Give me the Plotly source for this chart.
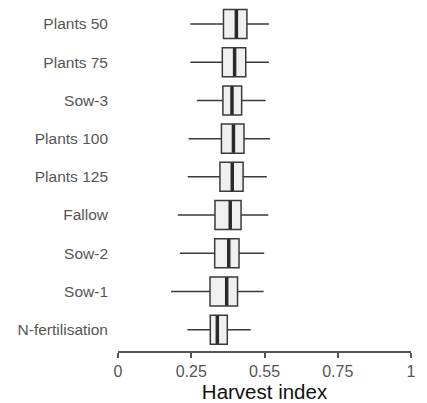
import plotly.graph_objects as go

categories = ["Plants 50", "Plants 75", "Sow-3", "Plants 100", "Plants 125",
              "Fallow", "Sow-2", "Sow-1", "N-fertilisation"]
lower = [0.247, 0.247, 0.269, 0.241, 0.238, 0.204, 0.211, 0.181, 0.237]
q1 = [0.360, 0.356, 0.358, 0.353, 0.348, 0.331, 0.330, 0.314, 0.315]
median = [0.404, 0.398, 0.389, 0.394, 0.390, 0.383, 0.378, 0.371, 0.339]
q3 = [0.440, 0.436, 0.422, 0.430, 0.427, 0.420, 0.413, 0.408, 0.373]
upper = [0.515, 0.515, 0.504, 0.519, 0.508, 0.513, 0.499, 0.497, 0.453]

tick_vals = [0, 0.25, 0.5, 0.75, 1]
tick_text = ["0", "0.25", "0.55", "0.75", "1"]

n = len(categories)
ypos = [n - 1 - i for i in range(n)]

fig = go.Figure()
fig.add_trace(go.Box(
    y=ypos, q1=q1, median=median, q3=q3,
    lowerfence=lower, upperfence=upper,
    orientation="h",
    fillcolor="#f0f0f0",
    line=dict(color="#3a3a3a", width=1.5),
    whiskerwidth=0,
    width=0.76,
    boxpoints=False,
    hoverinfo="skip",
    showlegend=False,
))

mx, my = [], []
for m, y in zip(median, ypos):
    mx += [m, m, None]
    my += [y - 0.37, y + 0.37, None]
fig.add_trace(go.Scatter(x=mx, y=my, mode="lines",
                         line=dict(color="#2a2a2a", width=3.5),
                         showlegend=False, hoverinfo="skip"))

# page body has an 8px margin, so the figure is 8px smaller and offset
fig.update_layout(
    width=419, height=395,
    margin=dict(l=109.5, r=16, t=0, b=52, autoexpand=False),
    plot_bgcolor="white", paper_bgcolor="white",
    font=dict(family="Liberation Sans, Arial, sans-serif", color="#555555"),
)
fig.update_xaxes(
    range=[0, 1], tickvals=tick_vals, ticktext=tick_text,
    showgrid=False, zeroline=False, automargin=False,
    showline=True, linecolor="#555555", linewidth=1.5,
    ticks="outside", ticklen=5, tickwidth=1.5, tickcolor="#555555",
    tickfont=dict(size=16, color="#555555"),
    title=dict(text="Harvest index", font=dict(size=20.5, color="#111111"), standoff=2),
)
fig.update_yaxes(
    range=[-0.558, 8.419], tickvals=ypos, ticktext=categories,
    showgrid=False, zeroline=False, showline=False, ticks="",
    automargin=False,
    tickfont=dict(size=15.5, color="#555555"),
    ticklabelstandoff=9,
)

fig.write_html("out.html")
